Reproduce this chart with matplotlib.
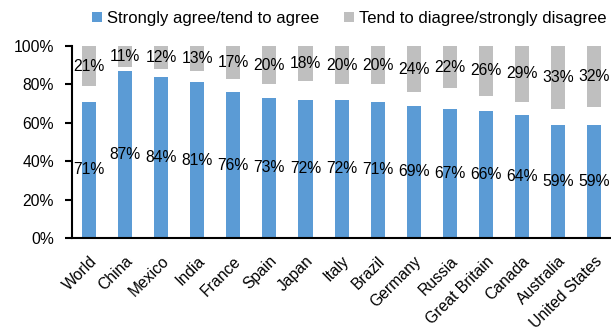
import numpy as np
import matplotlib
matplotlib.use("Agg")
import matplotlib.pyplot as plt
from matplotlib.ticker import FuncFormatter

plt.rcParams['font.family'] = ['Liberation Sans', 'DejaVu Sans']

countries = ["World", "China", "Mexico", "India", "France", "Spain", "Japan", "Italy",
             "Brazil", "Germany", "Russia", "Great Britain", "Canada", "Australia",
             "United States"]
agree = [71, 87, 84, 81, 76, 73, 72, 72, 71, 69, 67, 66, 64, 59, 59]
disagree = [21, 11, 12, 13, 17, 20, 18, 20, 20, 24, 22, 26, 29, 33, 32]

blue = "#5B9BD5"
grey = "#BFBFBF"
fs = 11.3

fig = plt.figure(figsize=(6.11, 3.33), dpi=100)
ax = fig.add_axes([0.118, 0.285, 0.882, 0.577])

x = np.arange(len(countries))
w = 0.39
agree = np.array(agree)
disagree = np.array(disagree)

b1 = ax.bar(x, agree, w, color=blue, label="Strongly agree/tend to agree")
b2 = ax.bar(x, disagree, w, bottom=100 - disagree, color=grey,
            label="Tend to diagree/strongly disagree")

for xi, a, d in zip(x, agree, disagree):
    ax.text(xi, a / 2, f"{a}%", ha="center", va="center", fontsize=fs)
    ax.text(xi, 100 - d / 2, f"{d}%", ha="center", va="center", fontsize=fs)

ax.set_xlim(-0.47, len(countries) - 0.53)
ax.set_ylim(0, 100)
ax.set_yticks(range(0, 101, 20))
ax.yaxis.set_major_formatter(FuncFormatter(lambda v, p: f"{v:.0f}%"))
ax.tick_params(axis="y", direction="out", length=5, width=1.5, pad=8, labelsize=fs)
ax.set_xticks(x)
ax.set_xticklabels(countries, rotation=45, ha="right", rotation_mode="anchor", fontsize=fs)
ax.tick_params(axis="x", length=0, pad=11)

for s in ["top", "right"]:
    ax.spines[s].set_visible(False)
for s in ["left", "bottom"]:
    ax.spines[s].set_linewidth(1.5)

fig.legend(handles=[b1, b2], loc="center", bbox_to_anchor=(0.572, 0.945), ncol=2,
           frameon=False, fontsize=12, handlelength=0.6, handleheight=0.6,
           handletextpad=0.3, columnspacing=1.5, borderaxespad=0)

fig.savefig("out.png", dpi=100)
